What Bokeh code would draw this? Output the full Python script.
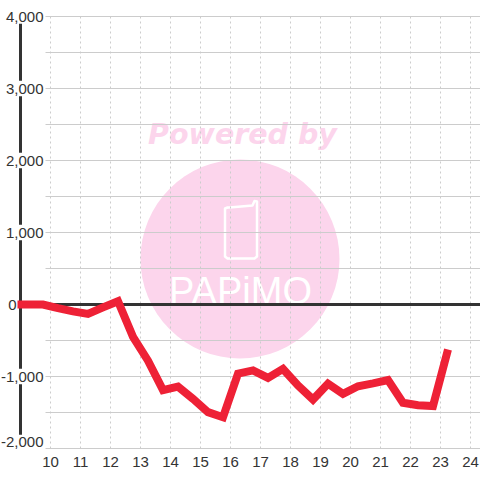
from bokeh.plotting import figure
from bokeh.embed import file_html
from bokeh.resources import INLINE
from bokeh.core.properties import value
from bokeh.models import FixedTicker, Range1d

hours = [8.9, 9.25, 9.75, 10.25, 10.75, 11.25, 11.75, 12.25, 12.75, 13.25, 13.75, 14.25, 14.75,
         15.25, 15.75, 16.25, 16.75, 17.25, 17.75, 18.25, 18.75, 19.25, 19.75, 20.25, 20.75,
         21.25, 21.75, 22.25, 22.75, 23.25]
values = [0, 0, 0, -50, -95, -130, -40, 45, -450, -780, -1190, -1140, -1310,
          -1495, -1565, -960, -915, -1020, -895, -1125, -1320, -1100, -1240, -1135, -1095,
          -1050, -1365, -1400, -1410, -625]
x_ticks = list(range(10, 25))
y_ticks = [4000, 3000, 2000, 1000, 0, -1000, -2000]
y_tick_labels = ["4,000", "3,000", "2,000", "1,000", "0", "-1,000", "-2,000"]
y_minor = [3500, 2500, 1500, 500, -500, -1500]

# pixel <-> data helpers (Bokeh strokes at pixel + 0.5)
def dx(px):
    return 10 + (px - 50) / 30
def dy(py):
    return 4000 - (py - 16) / 0.072

PINK = "#fcd5ec"
GRID = "#cccccc"
DARK = "#333333"
RED = "#ee2136"
FONT = "Liberation Sans"

p = figure(width=480, height=480, output_backend="svg", toolbar_location=None,
           x_range=Range1d(dx(0), dx(480)), y_range=Range1d(dy(449), dy(0)),
           y_axis_location=None, min_border=0, min_border_bottom=31,
           outline_line_color=None)
p.grid.visible = False

ax = p.xaxis[0]
ax.ticker = FixedTicker(ticks=x_ticks)
ax.axis_line_color = None
ax.major_tick_line_color = None
ax.minor_tick_line_color = None
ax.major_label_text_font = FONT
ax.major_label_text_font_size = "15px"
ax.major_label_text_color = DARK
ax.major_label_standoff = 1

# watermark
p.circle([dx(239.5)], [dy(258.5)], radius=99.5, radius_units="screen",
         fill_color=PINK, line_color=None, level="image")
p.text([dx(242)], [dy(134)], text=["Powered by"], text_font=value("DejaVu Sans"),
       text_font_style="bold italic", text_font_size="28.5px", text_color=PINK,
       text_align="center", text_baseline="middle", level="image")
p.line([dx(v) for v in (229, 252, 254, 256.5, 256.5, 254, 227, 224.5, 224.5, 227, 229)],
       [dy(v) for v in (207, 205, 200.5, 201, 256, 258, 258, 256, 208, 207, 207)],
       line_color="white", line_width=2.5, line_join="round", level="image")
p.text([dx(240)], [dy(290)], text=["PAPiMO"], text_font=value(FONT),
       text_font_size="38px", text_color="white", text_align="center",
       text_baseline="middle", level="image")

# grid
all_h = y_ticks + y_minor
p.segment([dx(45)] * len(all_h), all_h, [dx(480)] * len(all_h), all_h,
          line_color=GRID, line_width=1, level="underlay")
p.segment(x_ticks, [-2000] * len(x_ticks), x_ticks, [4000] * len(x_ticks),
          line_color=GRID, line_width=1, line_dash="2 3", level="underlay")

# axis lines: the vertical one is interrupted where a wide tick label sits on it
tops = [3900, 2892, 1892, 892, -1108]
ends = [3108, 2108, 1108, -892, -1808]
p.segment([9.0] * len(tops), tops, [9.0] * len(ends), ends, line_color=DARK, line_width=3)
p.segment([9.0], [0], [dx(480)], [0], line_color=DARK, line_width=3)

# y tick labels
p.text([dx(43)] * len(y_ticks), y_ticks, text=y_tick_labels, text_font=value(FONT),
       text_font_size="15px", text_color=DARK, text_align="right", text_baseline="middle",
       y_offset=[-7 if v == min(y_ticks) else 0 for v in y_ticks],
       x_offset=[-27 if v == 0 else 0 for v in y_ticks])

# series
p.line(hours, values, line_color=RED, line_width=8, line_join="miter")

html = file_html(p, INLINE)
html = html.replace("<head>", "<head><style>html,body{margin:0;padding:0;overflow:hidden}</style>", 1)
open("out.html", "w").write(html)
